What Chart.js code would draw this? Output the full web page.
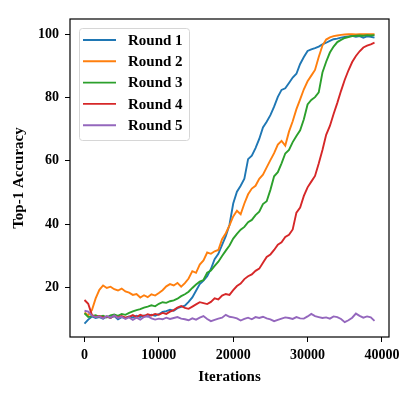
<!DOCTYPE html>
<html>
<head>
<meta charset="utf-8">
<script src="https://cdn.jsdelivr.net/npm/chart.js@4/dist/chart.umd.min.js"></script>
<style>
html,body{margin:0;padding:0;background:#fff;}
canvas{display:block;}
</style>
</head>
<body>
<canvas id="c" width="415" height="399"></canvas>
<script>
const iterations = [0,500,1000,1500,2000,2500,3000,3500,4000,4500,5000,5500,6000,6500,7000,7500,8000,8500,9000,9500,
10000,10500,11000,11500,12000,12500,13000,13500,14000,14500,15000,15500,16000,16500,17000,17500,18000,18500,19000,19500,
20000,20500,21000,21500,22000,22500,23000,23500,24000,24500,25000,25500,26000,26500,27000,27500,28000,28500,29000,29500,
30000,30500,31000,31500,32000,32500,33000,33500,34000,34500,35000,35500,36000,36500,37000,37500,38000,38500,39000];

const round1 = [8.5,9.8,10.8,10.3,10.6,10.1,10.7,10.4,10.9,9.9,10.6,10.3,10.8,10.5,11.0,10.6,11.1,10.8,11.3,11.0,
11.5,12.2,12.5,12.9,12.6,13.4,13.8,14.2,15.4,16.8,18.9,21.0,22.1,23.5,25.8,28.9,30.6,33.4,36.2,39.8,
46.5,50.2,52.1,54.3,60.5,61.6,64.0,66.9,70.5,72.3,74.4,77.1,80.2,82.4,82.9,84.6,86.3,87.5,90.6,92.8,
94.7,95.2,95.6,96.1,96.8,97.3,97.9,98.4,98.6,98.9,99.1,99.3,99.5,99.2,99.4,98.9,99.3,99.2,98.9];

const round2 = [12.0,11.2,12.8,16.5,19.2,20.6,19.8,20.2,19.4,19.0,19.6,18.7,18.3,17.6,17.9,16.8,17.5,16.9,17.8,17.4,
18.2,19.1,20.3,21.0,20.6,21.4,20.2,21.3,22.8,25.1,24.6,27.2,28.5,31.0,30.6,31.4,31.8,35.2,37.1,39.6,
42.4,44.2,43.1,46.5,49.4,51.2,52.1,54.3,55.6,57.9,60.2,62.4,65.1,66.3,64.8,69.2,72.5,76.3,79.4,82.6,
85.1,86.9,88.7,92.8,96.4,98.3,99.0,99.4,99.6,99.8,99.9,100.0,100.0,99.9,100.0,100.0,100.0,100.0,100.0];

const round3 = [11.8,10.6,10.9,11.2,10.7,11.0,10.5,11.1,11.4,11.0,11.6,11.3,11.9,12.4,12.8,13.1,13.6,13.9,14.3,14.0,
14.8,15.3,15.1,15.6,15.9,16.4,17.2,17.8,18.6,19.8,20.9,21.8,22.3,24.6,25.3,26.8,28.1,29.9,31.6,33.2,
35.4,36.9,38.2,39.1,40.6,41.3,42.8,43.9,46.3,47.2,50.8,55.1,56.4,59.2,62.3,63.4,65.9,67.8,69.6,73.1,
77.8,79.2,80.1,81.6,87.9,91.3,94.2,96.1,97.5,98.2,98.8,99.1,99.4,99.5,99.6,99.5,99.7,99.6,99.7];

const round4 = [16.0,14.8,11.2,10.6,10.9,10.4,10.8,10.3,11.0,10.5,10.9,10.4,10.7,11.2,10.6,11.3,10.9,11.5,11.1,11.6,
11.3,11.9,11.6,12.3,12.8,13.6,14.1,13.5,13.2,13.9,14.6,15.3,15.0,14.7,15.4,16.5,16.2,17.4,17.9,17.6,
19.1,20.4,21.2,22.6,23.5,24.1,25.2,25.9,27.8,29.6,30.4,31.8,33.5,34.2,35.9,36.6,38.3,43.6,45.2,48.9,
51.6,53.4,55.2,59.1,63.4,68.2,71.0,74.8,78.3,82.1,85.6,88.6,91.2,93.1,94.6,95.8,96.4,96.8,97.3];

const round5 = [12.6,12.3,11.0,10.6,10.8,10.2,10.9,10.4,11.1,10.3,10.7,10.0,10.5,9.7,10.4,9.8,10.6,10.9,10.2,9.8,
10.1,9.9,10.4,10.0,10.3,10.6,10.1,9.9,9.6,10.2,9.8,10.4,10.9,10.0,9.3,9.7,10.1,10.4,11.3,10.7,
10.5,10.2,9.5,10.0,10.4,9.9,10.6,10.3,10.7,10.2,9.9,9.3,9.7,10.1,10.5,10.3,10.0,10.6,10.2,10.1,
10.8,11.6,10.9,10.6,10.3,10.5,10.1,10.8,10.6,10.0,9.0,9.6,10.4,11.7,11.0,10.4,10.8,10.5,9.4];

const seriesLabels = ['Round 1','Round 2','Round 3','Round 4','Round 5'];
const seriesValues = [round1, round2, round3, round4, round5];
const seriesColors = ['#1f77b4','#ff7f0e','#2ca02c','#d62728','#9467bd'];
const xTickValues = [0,10000,20000,30000,40000];
const yTickValues = [20,40,60,80,100];
const xLabel = 'Iterations';
const yLabel = 'Top-1 Accuracy';

const FONT = '"Liberation Serif","Times New Roman",serif';

const datasets = seriesValues.map((vals, i) => ({
  label: seriesLabels[i],
  data: vals.map((v, j) => ({x: iterations[j], y: v})),
  borderColor: seriesColors[i],
  backgroundColor: seriesColors[i],
  borderWidth: 1.9,
  pointRadius: 0,
  tension: 0,
  fill: false,
  order: seriesValues.length - i
}));

const framePlugin = {
  id: 'frame',
  afterDatasetsDraw(chart) {
    const {ctx, chartArea: a} = chart;
    ctx.save();
    ctx.strokeStyle = '#000';
    ctx.lineWidth = 1.2;
    ctx.strokeRect(a.left, a.top, a.right - a.left, a.bottom - a.top);
    ctx.restore();
  }
};

const legendPlugin = {
  id: 'boxLegend',
  afterDraw(chart) {
    const ctx = chart.ctx;
    const x0 = 79, y0 = 28, w = 110, h = 112, r = 3;
    ctx.save();
    ctx.beginPath();
    ctx.roundRect(x0 + 0.5, y0 + 0.5, w, h, r);
    ctx.fillStyle = 'rgba(255,255,255,0.8)';
    ctx.fill();
    ctx.strokeStyle = '#d6d6d6';
    ctx.lineWidth = 1;
    ctx.stroke();
    ctx.font = 'bold 15px ' + FONT;
    ctx.textBaseline = 'middle';
    ctx.textAlign = 'left';
    chart.data.datasets.forEach((ds, i) => {
      const yy = 40 + i * 21.3;
      ctx.strokeStyle = ds.borderColor;
      ctx.lineWidth = 1.9;
      ctx.beginPath();
      ctx.moveTo(83, yy);
      ctx.lineTo(116, yy);
      ctx.stroke();
      ctx.fillStyle = '#000';
      ctx.fillText(ds.label, 128, yy + 1);
    });
    ctx.restore();
  }
};

new Chart(document.getElementById('c'), {
  type: 'line',
  data: {datasets},
  options: {
    responsive: false,
    animation: false,
    devicePixelRatio: 1,
    layout: {padding: {top: 19, right: 26, left: 0, bottom: 0}},
    plugins: {legend: {display: false}, tooltip: {enabled: false}},
    scales: {
      x: {
        type: 'linear',
        min: -1950,
        max: 40950,
        afterBuildTicks(s) { s.ticks = xTickValues.map(v => ({value: v})); },
        afterFit(s) { s.height = 62; },
        grid: {display: true, drawOnChartArea: false, drawTicks: true, tickLength: 5, tickColor: '#000', lineWidth: 1},
        border: {display: false},
        ticks: {
          color: '#000', padding: 5, maxRotation: 0, autoSkip: false,
          font: {family: FONT, size: 14, weight: 'bold'},
          callback: v => String(v)
        },
        title: {display: true, text: xLabel, color: '#000', font: {family: FONT, size: 15, weight: 'bold'}, padding: {top: 0, bottom: 13}}
      },
      y: {
        type: 'linear',
        min: 4.3,
        max: 104.8,
        afterBuildTicks(s) { s.ticks = yTickValues.map(v => ({value: v})); },
        afterFit(s) { s.width = 70; },
        grid: {display: true, drawOnChartArea: false, drawTicks: true, tickLength: 5, tickColor: '#000', lineWidth: 1},
        border: {display: false},
        ticks: {
          color: '#000', padding: 6, autoSkip: false,
          font: {family: FONT, size: 14, weight: 'bold'},
          callback: v => String(v)
        },
        title: {display: true, text: yLabel, color: '#000', font: {family: FONT, size: 15, weight: 'bold'}, padding: {top: 10, bottom: 0}}
      }
    }
  },
  plugins: [framePlugin, legendPlugin]
});
</script>
</body>
</html>
